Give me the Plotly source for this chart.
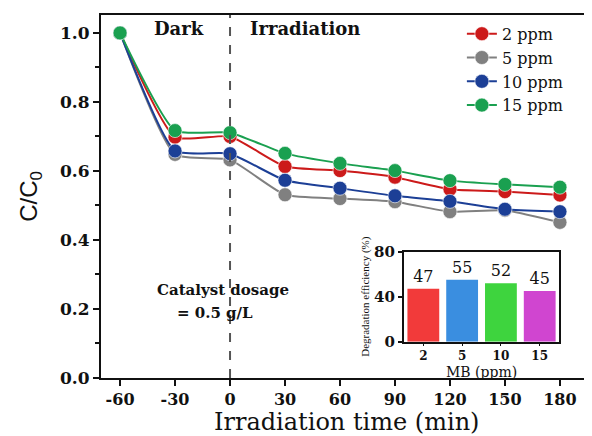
import plotly.graph_objects as go

time_min = [-60, -30, 0, 30, 60, 90, 120, 150, 180]
series_names = ["2 ppm", "5 ppm", "10 ppm", "15 ppm"]
c_2ppm = [1.0, 0.698, 0.700, 0.613, 0.601, 0.582, 0.547, 0.540, 0.530]
c_5ppm = [1.0, 0.648, 0.632, 0.531, 0.520, 0.511, 0.482, 0.486, 0.451]
c_10ppm = [1.0, 0.658, 0.650, 0.573, 0.550, 0.528, 0.512, 0.489, 0.482]
c_15ppm = [1.0, 0.717, 0.711, 0.651, 0.622, 0.601, 0.572, 0.561, 0.553]
line_colors = ["#cc1a1a", "#808080", "#1c3f96", "#1aa050"]

mb_ppm = ["2", "5", "10", "15"]
efficiency = [47, 55, 52, 45]
bar_colors = ["#f23a3a", "#3a8ee0", "#3ed43e", "#d045d0"]

SERIF = "DejaVu Serif"
TSERIF = "Liberation Serif"

fig = go.Figure()
for name, ys, col in zip(series_names, [c_2ppm, c_5ppm, c_10ppm, c_15ppm], line_colors):
    fig.add_trace(go.Scatter(
        x=time_min, y=ys, name=name, mode="lines+markers",
        line=dict(color=col, width=2, shape="spline", smoothing=0.5),
        marker=dict(color=col, size=14, line=dict(color="rgba(255,255,255,0.6)", width=1)),
        xaxis="x", yaxis="y",
    ))

fig.add_trace(go.Bar(
    x=mb_ppm, y=efficiency, marker=dict(color=bar_colors, line=dict(width=0)),
    text=[str(v) for v in efficiency], textposition="outside",
    textfont=dict(family=SERIF, size=16, color="#111"),
    cliponaxis=False, showlegend=False, width=0.82,
    xaxis="x2", yaxis="y2",
))

fig.update_layout(
    width=584, height=428,
    margin=dict(l=93, r=0, t=7, b=58, autoexpand=False),
    paper_bgcolor="white", plot_bgcolor="white",
    font=dict(family=SERIF, color="#111"),
    showlegend=True,
    legend=dict(x=0.735, y=0.995, xanchor="left", yanchor="top",
                font=dict(family=SERIF, size=16, color="#111"),
                bgcolor="rgba(0,0,0,0)", tracegroupgap=0, itemwidth=30),
    xaxis=dict(
        domain=[0, 1], range=[-70.4, 197.5], automargin=False,
        tickvals=time_min, ticktext=[str(t) for t in time_min],
        ticks="outside", ticklen=6, tickwidth=2, tickcolor="#111",
        showline=True, linecolor="#111", linewidth=2, mirror=True,
        showgrid=False, zeroline=False,
        tickfont=dict(family=SERIF, size=16, color="#111", weight="bold"),
    ),
    yaxis=dict(
        domain=[0, 1], range=[0, 1.052], automargin=False,
        tickvals=[0, 0.2, 0.4, 0.6, 0.8, 1.0], tickformat=".1f",
        ticks="outside", ticklen=6, tickwidth=2, tickcolor="#111",
        minor=dict(tickvals=[0.1, 0.3, 0.5, 0.7, 0.9], ticks="outside", ticklen=4, tickwidth=1.5, tickcolor="#111"),
        showline=True, linecolor="#111", linewidth=2, mirror=False,
        showgrid=False, zeroline=False,
        tickfont=dict(family=SERIF, size=17, color="#111", weight="bold"),
        title=dict(text="C/C<sub>0</sub>", font=dict(family="Liberation Sans", size=24, color="#111"), standoff=16),
    ),
    xaxis2=dict(
        domain=[0.617, 0.933], anchor="y2", type="category",
        ticks="outside", ticklen=2, tickcolor="#111",
        showline=True, linecolor="#111", linewidth=2, mirror=True,
        showgrid=False, zeroline=False,
        tickfont=dict(family=SERIF, size=12, color="#111", weight="bold"),
    ),
    yaxis2=dict(
        domain=[0.100, 0.348], anchor="x2", range=[0, 80],
        tickvals=[0, 40, 80],
        ticks="outside", ticklen=4, tickwidth=1.5, tickcolor="#111",
        showline=True, linecolor="#111", linewidth=2, mirror=True,
        showgrid=False, zeroline=False,
        tickfont=dict(family=SERIF, size=15, color="#111", weight="bold"),
        title=dict(text="Degradation efficiency (%)", font=dict(family=TSERIF, size=11, color="#111"), standoff=2),
    ),
    shapes=[dict(type="line", xref="x", yref="paper", x0=0, x1=0, y0=0, y1=1,
                 line=dict(color="#555", width=2, dash="dash"))],
    annotations=[
        dict(text="Irradiation time (min)", x=0.5, y=-0.121, xref="paper", yref="paper",
             xanchor="center", yanchor="middle", showarrow=False,
             font=dict(family=SERIF, size=24, color="#111")),
        dict(text="Dark", x=-28, y=1.012, xref="x", yref="y", showarrow=False,
             font=dict(family=SERIF, size=18, color="#111", weight="bold")),
        dict(text="Irradiation", x=41, y=1.012, xref="x", yref="y", showarrow=False,
             font=dict(family=SERIF, size=18, color="#111", weight="bold")),
        dict(text="Catalyst dosage", x=-4, y=0.255, xref="x", yref="y", showarrow=False,
             font=dict(family=SERIF, size=15, color="#111", weight="bold")),
        dict(text="= 0.5 g/L", x=-8, y=0.187, xref="x", yref="y", showarrow=False,
             font=dict(family=SERIF, size=15, color="#111", weight="bold")),
        dict(text="MB (ppm)", x=0.775, y=0.016, xref="paper", yref="paper",
             xanchor="center", yanchor="middle", showarrow=False,
             font=dict(family=SERIF, size=14, color="#111")),
    ],
)

fig.write_html("out.html")
